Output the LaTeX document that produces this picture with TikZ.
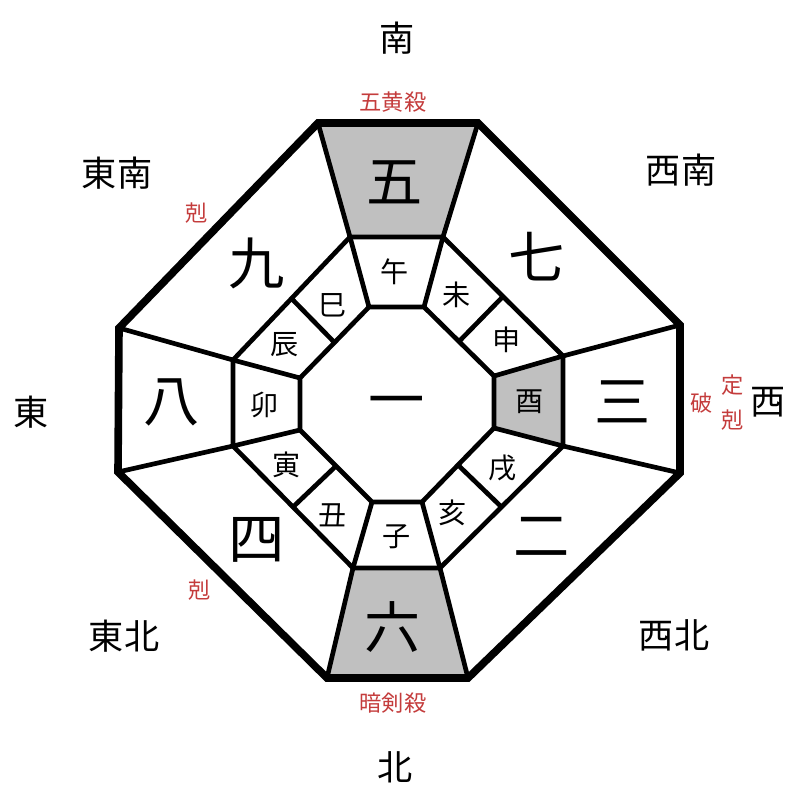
\documentclass[tikz,border=0pt]{standalone}
\usepackage{fontspec}
\newfontfamily\jp{Noto Sans CJK JP}
\usetikzlibrary{calc}
\definecolor{kasatsu}{RGB}{196,60,60}
\definecolor{haiiro}{RGB}{192,192,192}
\tikzset{
  rim/.style={line width=6.5pt},
  wall/.style={line width=4pt},
  kyu/.style={inner sep=0pt,font=\jp\fontsize{48}{48}\selectfont},
  eto/.style={inner sep=0pt,font=\jp\fontsize{24}{24}\selectfont},
  hoi/.style={inner sep=0pt,font=\jp\fontsize{30}{30}\selectfont},
  sha/.style={inner sep=0pt,text=kasatsu,font=\jp\fontsize{19}{19}\selectfont},
}
\begin{document}
\begin{tikzpicture}[x=0.3mm,y=-0.3mm]
 \useasboundingbox (0,0) rectangle (800,800);
 \foreach \n/\x/\y in {o1/318/123,o2/478/123,o3/680/325,o4/680/473,o5/468/678,o6/327/678,o7/118/472,o8/119/328,
   m1/350/237,m2/443/237,m3/563/356,m4/563/446,m5/440/568,m6/353/568,m7/233/446,m8/233/360,
   i1/369/307,i2/424/307,i3/494/376,i4/494/428,i5/422/502,i6/372/502,i7/300/430,i8/300/378}{\coordinate (\n) at (\x,\y);}
 \foreach \a/\b in {2/3,4/5,6/7,8/1}{\coordinate (p\a) at ($(m\a)!.5!(m\b)$); \coordinate (q\a) at ($(i\a)!.5!(i\b)$);}
 \fill[haiiro] (o1)--(o2)--(m2)--(m1)--cycle (o6)--(o5)--(m5)--(m6)--cycle (m3)--(m4)--(i4)--(i3)--cycle;
 \foreach \a in {2,4,6,8}{\draw[wall] (p\a)--(q\a);}
 \foreach \k in {1,...,8}{\draw[wall] (o\k)--(m\k)--(i\k);}
 \draw[wall] (m1)--(m2)--(m3)--(m4)--(m5)--(m6)--(m7)--(m8)--cycle (i1)--(i2)--(i3)--(i4)--(i5)--(i6)--(i7)--(i8)--cycle;
 \draw[rim] (o1)--(o2)--(o3)--(o4)--(o5)--(o6)--(o7)--(o8)--cycle;
 \foreach \n/\t/\x/\y in {k1/一/397/408,k2/二/542/537,k3/三/623/402,k4/四/257/540,k5/五/395/182,k6/六/393/627,k7/七/537/257,k8/八/172/402,k9/九/257/263}{\node[kyu] (\n) at (\x,\y) {\t};}
 \foreach \n/\t/\x/\y in {uma/午/395/272,hitsuji/未/457/295,saru/申/507/340,tori/酉/530/402,inu/戌/503/468,i/亥/453/513,ne/子/397/537,ushi/丑/333/515,tora/寅/287/465,u/卯/265/405,tatsu/辰/285/345,mi/巳/333/305}{\node[eto] (\n) at (\x,\y) {\t};}
 \foreach \n/\t/\x/\y in {s/南/397/38,sw/西南/681/170,w/西/768/402,nw/西北/674/635,n/北/395/767,ne/東北/124/636,e/東/31/412,se/東南/117/173}{\node[hoi] (d\n) at (\x,\y) {\t};}
 \foreach \n/\t/\x/\y in {gooh/五黄殺/393/102,koku1/剋/197/213,tei/定/733/385,ha/破/702/403,koku2/剋/733/420,koku3/剋/200/590,anken/暗剣殺/393/703}{\node[sha] (\n) at (\x,\y) {\t};}
\end{tikzpicture}
\end{document}
